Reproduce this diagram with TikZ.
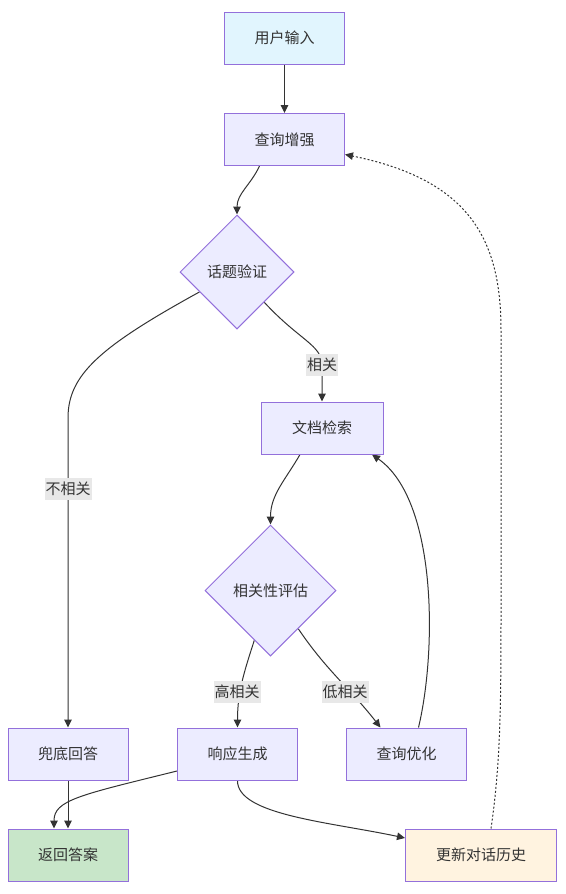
\documentclass[tikz,border=0pt]{standalone}
\usepackage{fontspec}
\setmainfont{Noto Sans CJK SC}
\usepackage{tikz}
\usetikzlibrary{arrows.meta,backgrounds}
\usetikzlibrary{shapes.geometric}
\usetikzlibrary{calc}
\usepackage{xcolor}
\definecolor{box-fill}{HTML}{ECECFF}
\definecolor{box-line}{HTML}{9370DB}
\definecolor{input-fill}{HTML}{E1F5FE}
\definecolor{answer-fill}{HTML}{C8E6C9}
\definecolor{history-fill}{HTML}{FFF3E0}
\definecolor{edge-grey}{HTML}{333333}
\definecolor{label-grey}{HTML}{E8E8E8}
\tikzstyle{stepbox}=[draw=box-line, fill=box-fill, line width=1pt, minimum width=120pt, minimum height=52pt, inner sep=0pt, text=edge-grey, font=\fontsize{15}{18}\selectfont]
\tikzstyle{decision}=[stepbox, diamond, aspect=1, minimum width=114pt, minimum height=114pt]
\tikzstyle{edgelabel}=[fill=label-grey, inner sep=1pt, minimum height=22pt, text=edge-grey, font=\fontsize{15}{18}\selectfont]
\tikzstyle{flow}=[draw=edge-grey, line width=1pt, -{Triangle[length=8pt,width=7.5pt]}]
\tikzstyle{loopback}=[flow, dash pattern=on 2pt off 2pt]

\begin{document}
\begin{tikzpicture}[x=1pt, y=1pt]
	\useasboundingbox (0,0) rectangle (565,-894);
	% nodes
	\node[stepbox, fill=input-fill] (input) at (284.5,-38) {用户输入};
	\node[stepbox] (enhance) at (284.5,-139.5) {查询增强};
	\node[decision] (topic) at (237,-272) {话题验证};
	\node[stepbox, minimum width=122pt] (retrieve) at (322,-428) {文档检索};
	\node[decision, minimum width=131pt, minimum height=131pt] (relevance) at (270.5,-590.5) {相关性评估};
	\node[stepbox] (fallback) at (68,-754) {兜底回答};
	\node[stepbox] (generate) at (237.5,-754) {响应生成};
	\node[stepbox] (refine) at (406.5,-754) {查询优化};
	\node[stepbox, fill=answer-fill] (answer) at (68,-855) {返回答案};
	\node[stepbox, fill=history-fill, minimum width=151pt] (history) at (481,-855) {更新对话历史};
	% labels
	\node[edgelabel] (rel-yes) at (322,-365) {相关};
	\node[edgelabel] (rel-no) at (68,-489) {不相关};
	\node[edgelabel] (rel-high) at (237,-692) {高相关};
	\node[edgelabel] (rel-low) at (345,-692) {低相关};
	% connectors
	\begin{scope}[on background layer]
		\draw[flow] (input) -- (enhance);
		\draw[flow] ([xshift=-25pt]enhance.south) to[out=-115,in=90] (topic.north);
		\draw[flow] (topic.-48) .. controls +(35,-38) and (322,-345) .. (rel-yes.center) -- (retrieve.north);
		\draw[flow] (topic.-152) .. controls +(-100,-55) and (68,-375) .. (68,-418) -- (fallback.north);
		\draw[flow] ([xshift=-22pt]retrieve.south) to[out=-120,in=90] (relevance.north);
		\draw[flow] (relevance.-108) to[out=-108,in=90] (generate.north);
		\draw[flow] (relevance.-54) to[out=-56,in=128] ([xshift=-26pt]refine.north);
		\draw[flow] ([xshift=12pt]refine.north) .. controls (437,-650) and (437,-500) .. ([xshift=50pt]retrieve.south);
		\draw[flow] (fallback) -- (answer);
		\draw[flow] ([yshift=-17pt]generate.west) .. controls (80,-795) and (54,-800) .. ([xshift=-14pt]answer.north);
		\draw[flow] (generate.south) .. controls (237,-815) and (330,-822) .. ([yshift=17pt]history.west);
		\draw[loopback] ([xshift=10pt]history.north) .. controls (501,-760) and (501,-700) .. (501,-600) -- (501,-330) .. controls (501,-240) and (470,-180) .. ([yshift=-15pt]enhance.east);
	\end{scope}
\end{tikzpicture}
\end{document}
